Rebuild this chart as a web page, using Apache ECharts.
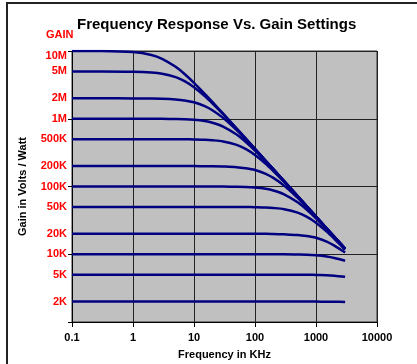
<!DOCTYPE html>
<html><head><meta charset="utf-8">
<script src="https://cdn.jsdelivr.net/npm/echarts@6/dist/echarts.min.js"></script>
<style>html,body{margin:0;padding:0;background:#fff}#c{width:417px;height:364px}</style>
</head><body><div id="c"></div>
<script>
// Frequencies in kHz
const freqs = [0.1, 0.3, 1, 2, 3, 5, 7, 10, 15, 20, 30, 50, 70, 100, 150, 200, 300, 500, 700, 1000, 1500, 2000, 3000];
const seriesNames = ['10M','5M','2M','1M','500K','200K','100K','50K','20K','10K','5K','2K'];
const g10M  = [10e6, 9.97e6, 9.63e6, 8.74e6, 7.68e6, 5.84e6, 4.57e6, 3.39e6, 2.33e6, 1.77e6, 1.19e6, 718e3, 514e3, 360e3, 240e3, 180e3, 120e3, 72e3, 51.4e3, 36e3, 24e3, 18e3, 12.2e3];
const g5M   = [5e6, 5e6, 4.95e6, 4.82e6, 4.62e6, 4.11e6, 3.59e6, 2.92e6, 2.16e6, 1.69e6, 1.17e6, 713e3, 512e3, 359e3, 240e3, 180e3, 120e3, 72e3, 51.4e3, 36e3, 24e3, 18e3, 12.1e3];
const g2M   = [2e6, 2e6, 1.997e6, 1.988e6, 1.973e6, 1.927e6, 1.864e6, 1.748e6, 1.536e6, 1.338e6, 1.029e6, 678e3, 498e3, 354e3, 238e3, 179e3, 120e3, 72e3, 51.4e3, 36e3, 24e3, 18e3, 12e3];
const g1M   = [1e6, 1e6, 1e6, 0.999e6, 0.997e6, 0.990e6, 0.982e6, 0.963e6, 0.923e6, 0.874e6, 0.768e6, 584e3, 457e3, 339e3, 233e3, 177e3, 119e3, 71.8e3, 51.3e3, 36e3, 24e3, 18e3, 12e3];
const g500K = [5e5, 5e5, 5e5, 5e5, 5e5, 499e3, 498e3, 495e3, 490e3, 482e3, 462e3, 411e3, 359e3, 292e3, 216e3, 169e3, 117e3, 71.3e3, 51.2e3, 35.9e3, 24e3, 18e3, 12e3];
const g200K = [2e5, 2e5, 2e5, 2e5, 2e5, 2e5, 2e5, 2e5, 199e3, 198.8e3, 197e3, 193e3, 186e3, 175e3, 154e3, 134e3, 103e3, 67.8e3, 49.8e3, 35.4e3, 23.8e3, 17.9e3, 11.9e3];
const g100K = [1e5, 1e5, 1e5, 1e5, 1e5, 1e5, 1e5, 1e5, 1e5, 1e5, 99.7e3, 99e3, 98.2e3, 96.3e3, 92.3e3, 87.4e3, 76.8e3, 58.4e3, 45.7e3, 33.9e3, 23.3e3, 17.7e3, 11.9e3];
const g50K  = [5e4, 5e4, 5e4, 5e4, 5e4, 5e4, 5e4, 5e4, 5e4, 5e4, 5e4, 5e4, 49.8e3, 49.5e3, 49e3, 48.2e3, 46.2e3, 41.1e3, 35.9e3, 29.2e3, 21.6e3, 16.9e3, 11.7e3];
const g20K  = [2e4, 2e4, 2e4, 2e4, 2e4, 2e4, 2e4, 2e4, 2e4, 2e4, 2e4, 2e4, 2e4, 2e4, 2e4, 19.9e3, 19.7e3, 19.3e3, 18.6e3, 17.5e3, 15.4e3, 13.4e3, 10.6e3];
const g10K  = [1e4, 1e4, 1e4, 1e4, 1e4, 1e4, 1e4, 1e4, 1e4, 1e4, 1e4, 1e4, 1e4, 1e4, 1e4, 1e4, 1e4, 9.9e3, 9.82e3, 9.63e3, 9.25e3, 8.8e3, 8.0e3];
const g5K   = [5e3, 5e3, 5e3, 5e3, 5e3, 5e3, 5e3, 5e3, 5e3, 5e3, 5e3, 5e3, 5e3, 5e3, 5e3, 5e3, 5e3, 5e3, 5e3, 4.95e3, 4.9e3, 4.82e3, 4.65e3];
const g2K   = [2e3, 2e3, 2e3, 2e3, 2e3, 2e3, 2e3, 2e3, 2e3, 2e3, 2e3, 2e3, 2e3, 2e3, 2e3, 2e3, 2e3, 2e3, 2e3, 2e3, 1.995e3, 1.99e3, 1.97e3];
const allGains = [g10M, g5M, g2M, g1M, g500K, g200K, g100K, g50K, g20K, g10K, g5K, g2K];
// Y tick labels
const yTickValues = [2e3, 5e3, 1e4, 2e4, 5e4, 1e5, 2e5, 5e5, 1e6, 2e6, 5e6, 1e7];
const yTickLabels = ['2K','5K','10K','20K','50K','100K','200K','500K','1M','2M','5M','10M'];

const FONT = '"Liberation Sans", Arial, sans-serif';
const chart = echarts.init(document.getElementById('c'));
chart.setOption({
  animation: false,
  backgroundColor: '#fff',
  title: [
    { text: 'Frequency Response Vs. Gain Settings', left: 72, top: 12,
      textStyle: { fontFamily: FONT, fontWeight: 'bold', fontSize: 15, color: '#000' } },
    { text: 'GAIN', left: 41, top: 24,
      textStyle: { fontFamily: FONT, fontWeight: 'bold', fontSize: 11, color: '#ff0000' } }
  ],
  graphic: [{
    type: 'rect', shape: { x: 7, y: 3, width: 430, height: 380 },
    style: { fill: null, stroke: '#222', lineWidth: 2 }, silent: true, z: -1
  }],
  grid: { left: 72, right: 40, top: 51, bottom: 42, show: true, outerBoundsMode: 'none',
    containLabel: false,
    backgroundColor: '#c0c0c0', borderColor: '#333', borderWidth: 1 },
  xAxis: {
    type: 'log', logBase: 10, min: 0.1, max: 10000,
    name: 'Frequency in KHz', nameLocation: 'middle', nameGap: 27,
    nameTextStyle: { fontFamily: FONT, fontWeight: 'bold', fontSize: 11, color: '#000' },
    axisLine: { lineStyle: { color: '#000', width: 1 } },
    axisTick: { show: true, length: 5, lineStyle: { color: '#000' } },
    axisLabel: { fontFamily: FONT, fontWeight: 'bold', fontSize: 11, color: '#000', margin: 10,
      formatter: v => String(v) },
    splitLine: { show: true, lineStyle: { color: '#222', width: 1 } },
    minorTick: { show: false }
  },
  yAxis: {
    type: 'log', logBase: 10, min: 1000, max: 1e7,
    name: 'Gain in Volts / Watt', nameLocation: 'middle', nameGap: 44,
    nameTextStyle: { fontFamily: FONT, fontWeight: 'bold', fontSize: 11, color: '#000' },
    axisLine: { lineStyle: { color: '#000', width: 1 } },
    axisTick: { show: true, length: 4, lineStyle: { color: '#000' } },
    axisLabel: { fontFamily: FONT, fontWeight: 'bold', fontSize: 11, color: '#ff0000', margin: 5,
      customValues: yTickValues,
      rich: { top: { fontFamily: FONT, fontWeight: 'bold', fontSize: 11, color: '#ff0000', padding: [9, 0, 0, 0] } },
      formatter: v => {
        const i = yTickValues.findIndex(t => Math.abs(t - v) / t < 1e-6);
        if (i < 0) return '';
        return i === yTickValues.length - 1 ? '{top|' + yTickLabels[i] + '}' : yTickLabels[i];
      } },
    splitLine: { show: true, lineStyle: { color: '#222', width: 1 } }
  },
  series: allGains.map((g, k) => ({
    name: seriesNames[k], type: 'line', showSymbol: false, symbol: 'none',
    smooth: 0.3,
    lineStyle: { color: '#000080', width: 2.5 },
    data: freqs.map((f, i) => [f, g[i]])
  }))
});
</script></body></html>
